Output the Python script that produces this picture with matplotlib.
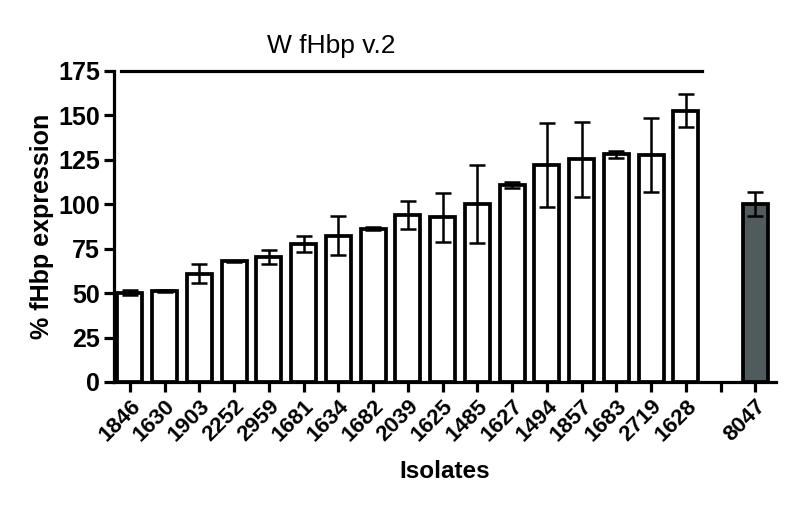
#!/usr/bin/env python3
import numpy as np
from matplotlib import pyplot as plt
from matplotlib import font_manager

isolates = ['1846', '1630', '1903', '2252', '2959', '1681', '1634', '1682', '2039',
            '1625', '1485', '1627', '1494', '1857', '1683', '2719', '1628']
expression = [50.3, 51.0, 61.0, 67.8, 70.3, 77.7, 82.3, 86.2, 94.0,
              92.5, 100.3, 110.6, 122.0, 125.2, 128.0, 127.8, 152.5]
errors = [1.2, 0.5, 5.4, 0.3, 4.0, 4.5, 11.0, 1.0, 8.0,
          13.6, 22.0, 1.6, 23.6, 21.0, 1.8, 20.7, 9.3]

ref_label = '8047'
ref_value = 100.0
ref_error = 6.6

group_title = 'W fHbp v.2'

names = set(f.name for f in font_manager.fontManager.ttflist)
narrow = 'Liberation Sans Narrow' if 'Liberation Sans Narrow' in names else 'Liberation Sans'

fig = plt.figure(figsize=(7.96, 5.13), dpi=100, facecolor='w')
ax = fig.add_axes([0.1432, 0.2554, 0.8316, 0.6066])

lw = 2.3
bar_lw = 2.7
n = len(isolates)
pos = np.arange(n)
ref_pos = n + 1

ax.bar(pos, expression, width=0.72, color='white', edgecolor='black', linewidth=bar_lw, zorder=2)
ax.errorbar(pos, expression, yerr=errors, fmt='none', ecolor='black', elinewidth=1.8,
            capsize=6, capthick=1.8, zorder=3)
ax.bar([ref_pos], [ref_value], width=0.72, color='#4f5b5c', edgecolor='black', linewidth=bar_lw, zorder=2)
ax.errorbar([ref_pos], [ref_value], yerr=[ref_error], fmt='none', ecolor='black', elinewidth=1.8,
            capsize=6, capthick=1.8, zorder=3)

ax.set_xlim(-0.46, 18.59)
ax.set_ylim(0, 175)
ax.set_yticks(range(0, 176, 25))

ticks = list(pos) + [n, ref_pos]
labels = isolates + ['', ref_label]
ax.set_xticks(ticks)
ax.set_xticklabels(labels, rotation=45, ha='right', rotation_mode='anchor',
                   fontsize=16, fontweight='bold', family=narrow)
for t in ax.get_yticklabels():
    t.set_fontsize(18)
    t.set_fontweight('bold')
    t.set_family(narrow)

ax.spines['top'].set_visible(False)
ax.spines['right'].set_visible(False)
ax.spines['left'].set_linewidth(lw)
ax.spines['bottom'].set_linewidth(lw)
ax.tick_params(axis='both', width=lw, length=7, pad=3)
ax.tick_params(axis='x', pad=3)

ax.set_ylabel('% fHbp expression', fontsize=18, fontweight='bold', family='Liberation Sans', labelpad=3)
ax.set_xlabel('Isolates', fontsize=17.5, fontweight='bold', family='Liberation Sans', labelpad=10)

# group bar across the top
ax.plot([-0.27, 16.45], [175, 175], color='black', linewidth=lw, clip_on=False)
ax.text(5.8, 189, group_title, ha='center', va='center', fontsize=19, family='Liberation Sans')

plt.savefig('out.png', dpi=100)
